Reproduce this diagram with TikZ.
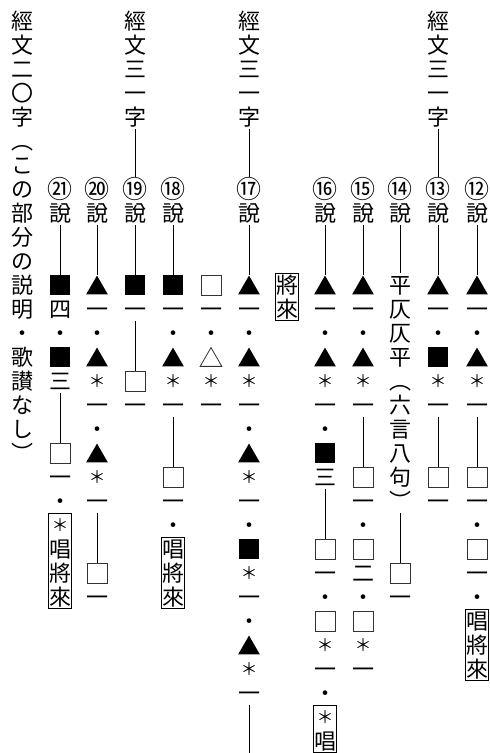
\documentclass[tikz,border=0pt]{standalone}
\usepackage{fontspec}
\setmainfont{Noto Sans CJK JP}
\usetikzlibrary{shapes.geometric,fit}

\tikzset{
  ch/.style={inner sep=0pt,minimum width=24pt,minimum height=24pt,
    text height=20.4pt,text depth=3.6pt,font=\fontsize{22}{24}\selectfont},
  num/.style={ch,text height=21.5pt,text depth=2.5pt,font=\fontsize{25}{24}\selectfont},
  ast/.style={ch,text height=18.6pt,text depth=5.4pt,font=\fontsize{17}{24}\selectfont},
  blk/.style={fill=black,minimum size=20.5pt,inner sep=0pt},
  wht/.style={draw=black!80,line width=0.9pt,minimum size=20pt,inner sep=0pt},
  tri/.style={regular polygon,regular polygon sides=3,fill=black,
    minimum size=25pt,inner sep=0pt,yshift=-3.1pt},
  otri/.style={tri,fill=none,draw=black!80,line width=0.8pt},
  bar/.style={line width=0.8pt},
  frame/.style={draw,line width=0.8pt,inner sep=-0.5pt}
}

% one column of cells, 24pt apart, row 0 at the top
\newcommand{\kcolumn}[3]{%
  \foreach \r/\s/\t in {#3}
    \node[\s] (#1-\r) at (#2,{-21-24*\r}) {\t};%
}

\begin{document}
\begin{tikzpicture}[x=1pt,y=1pt]
	\useasboundingbox (0,0) rectangle (490,-753);
	\kcolumn{p12}{477}{7/num/⑫,8/ch/說,11/tri/{},12/ch/一,13/ch/・,14/tri/{},15/ast/＊,16/ch/一,19/wht/{},20/ch/一,21/ch/・,22/wht/{},23/ch/一,24/ch/・,25/ch/唱,26/ch/將,27/ch/來}
	\kcolumn{p13}{438}{0/ch/經,1/ch/文,2/ch/三,3/ch/一,4/ch/字,7/num/⑬,8/ch/說,11/tri/{},12/ch/一,13/ch/・,14/blk/{},15/ast/＊,16/ch/一,19/wht/{},20/ch/一}
	\kcolumn{p14}{400}{7/num/⑭,8/ch/說,11/ch/平,12/ch/仄,13/ch/仄,14/ch/平,15/ch/︵,16/ch/六,17/ch/言,18/ch/八,19/ch/句,20/ch/︶,23/wht/{},24/ch/一}
	\kcolumn{p15}{363}{7/num/⑮,8/ch/說,11/tri/{},12/ch/一,13/ch/・,14/tri/{},15/ast/＊,16/ch/一,19/wht/{},20/ch/一,21/ch/・,22/wht/{},23/ch/二,24/ch/・,25/wht/{},26/ast/＊,27/ch/一}
	\kcolumn{p16}{325}{7/num/⑯,8/ch/說,11/tri/{},12/ch/一,13/ch/・,14/tri/{},15/ast/＊,16/ch/一,17/ch/・,18/blk/{},19/ch/三,22/wht/{},23/ch/一,24/ch/・,25/wht/{},26/ast/＊,27/ch/一,28/ch/・,29/ast/＊,30/ch/唱}
	\kcolumn{pa}{287}{11/ch/將,12/ch/來}
	\kcolumn{p17}{249}{0/ch/經,1/ch/文,2/ch/三,3/ch/一,4/ch/字,7/num/⑰,8/ch/說,11/tri/{},12/ch/一,13/ch/・,14/tri/{},15/ast/＊,16/ch/一,17/ch/・,18/tri/{},19/ast/＊,20/ch/一,21/ch/・,22/blk/{},23/ast/＊,24/ch/一,25/ch/・,26/tri/{},27/ast/＊,28/ch/一}
	\kcolumn{pb}{211}{11/wht/{},12/ch/一,13/ch/・,14/otri/{},15/ast/＊,16/ch/一}
	\kcolumn{p18}{173}{7/num/⑱,8/ch/說,11/blk/{},12/ch/一,13/ch/・,14/tri/{},15/ast/＊,16/ch/一,19/wht/{},20/ch/一,21/ch/・,22/ch/唱,23/ch/將,24/ch/來}
	\kcolumn{p19}{135}{0/ch/經,1/ch/文,2/ch/三,3/ch/一,4/ch/字,7/num/⑲,8/ch/說,11/blk/{},12/ch/一,15/wht/{},16/ch/一}
	\kcolumn{p20}{97}{7/num/⑳,8/ch/說,11/tri/{},12/ch/一,13/ch/・,14/tri/{},15/ast/＊,16/ch/一,17/ch/・,18/tri/{},19/ast/＊,20/ch/一,23/wht/{},24/ch/一}
	\kcolumn{p21}{60}{7/num/㉑,8/ch/說,11/blk/{},12/ch/四,13/ch/・,14/blk/{},15/ch/三,18/wht/{},19/ch/一,20/ch/・,21/ast/＊,22/ch/唱,23/ch/將,24/ch/來}
	\kcolumn{note}{22}{0/ch/經,1/ch/文,2/ch/二,3/ch/〇,4/ch/字,5/ch/︵,6/ch/こ,7/ch/の,8/ch/部,9/ch/分,10/ch/の,11/ch/説,12/ch/明,13/ch/・,14/ch/歌,15/ch/讃,16/ch/な,17/ch/し,18/ch/︶}
	\coordinate (p17-end) at (249,-753);
	\draw[bar] (p12-8) -- (p12-11) (p12-16) -- (p12-19);
	\draw[bar] (p13-4) -- (p13-7) (p13-8) -- (p13-11) (p13-16) -- (p13-19);
	\draw[bar] (p14-8) -- (p14-11) (p14-20) -- (p14-23);
	\draw[bar] (p15-8) -- (p15-11) (p15-16) -- (p15-19);
	\draw[bar] (p16-8) -- (p16-11) (p16-19) -- (p16-22);
	\draw[bar] (p17-4) -- (p17-7) (p17-8) -- (p17-11) (p17-28) -- (p17-end);
	\draw[bar] (p18-8) -- (p18-11) (p18-16) -- (p18-19);
	\draw[bar] (p19-4) -- (p19-7) (p19-8) -- (p19-11) (p19-12) -- (p19-15);
	\draw[bar] (p20-8) -- (p20-11) (p20-20) -- (p20-23);
	\draw[bar] (p21-8) -- (p21-11) (p21-15) -- (p21-18);
	\node[frame,fit=(p12-25)(p12-27)] (p12-box) {};
	\node[frame,fit=(p16-29)(p16-30)] (p16-box) {};
	\node[frame,fit=(pa-11)(pa-12)] (pa-box) {};
	\node[frame,fit=(p18-22)(p18-24)] (p18-box) {};
	\node[frame,fit=(p21-21)(p21-24)] (p21-box) {};
\end{tikzpicture}
\end{document}
